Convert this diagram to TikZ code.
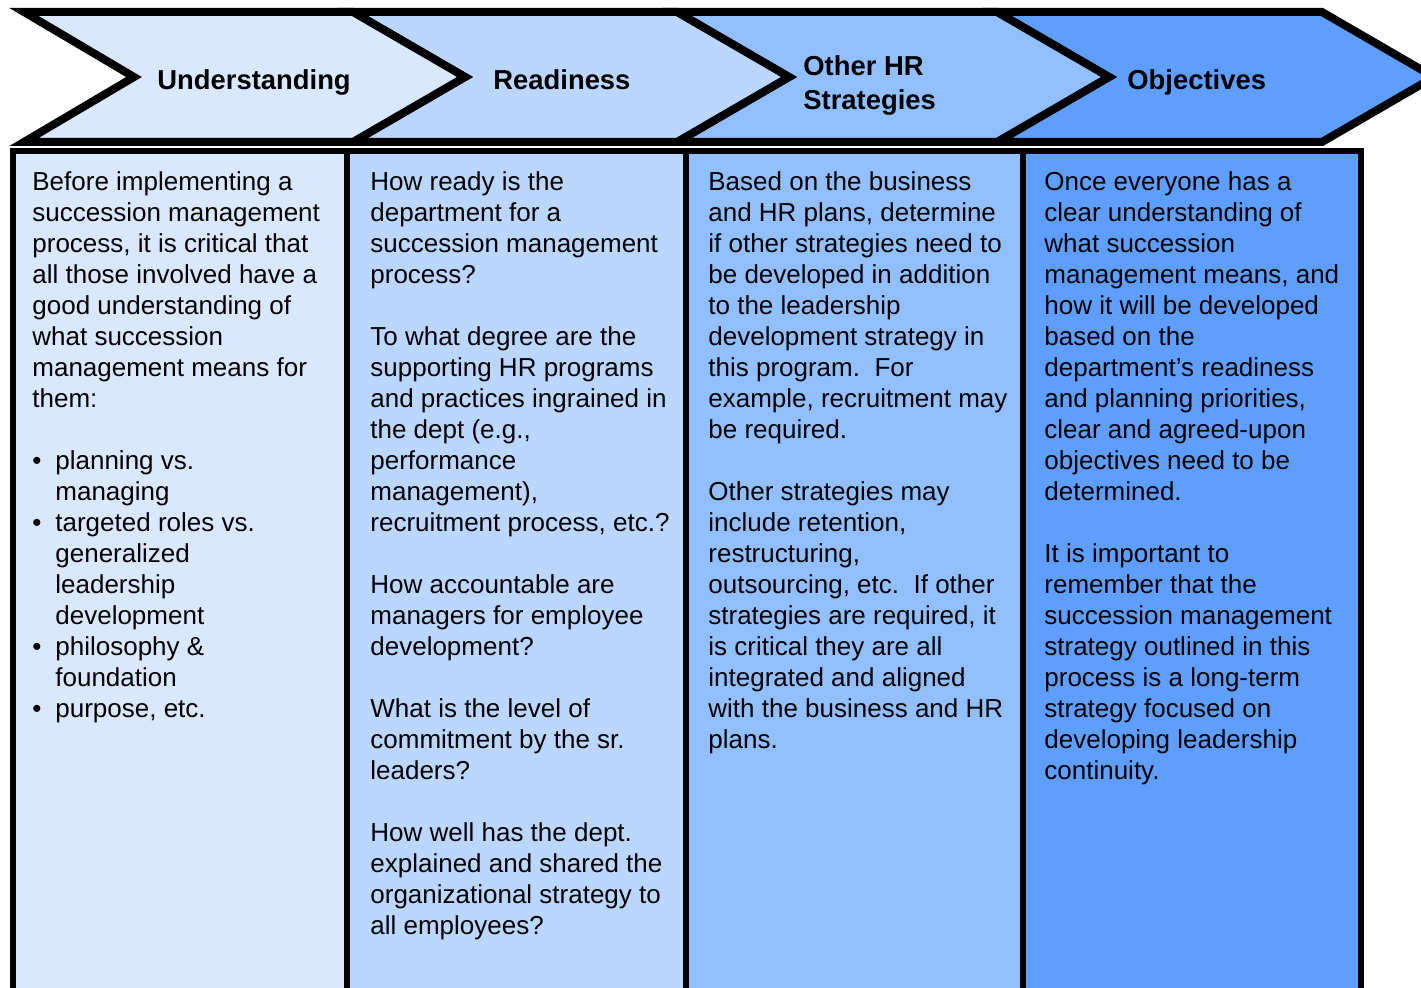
\documentclass[tikz,border=0pt]{standalone}
\usepackage{fontspec}
\setmainfont{Liberation Sans}
\usetikzlibrary{positioning}

\definecolor{stageA}{RGB}{217,232,255}
\definecolor{stageB}{RGB}{187,214,255}
\definecolor{stageC}{RGB}{146,191,255}
\definecolor{stageD}{RGB}{94,158,255}

\newcommand{\bitem}{\makebox[11.5pt][l]{\textbullet}}
\newcommand{\bcont}{\hspace*{11.5pt}}

\tikzset{
  chev/.style={draw=black, line width=4pt, line join=miter},
  colbox/.style={draw=black, line width=3pt},
  head/.style={font=\fontsize{13.7}{17}\selectfont\bfseries, inner sep=0pt, align=left},
  body/.style={font=\fontsize{13}{15.5}\selectfont, inner sep=0pt, align=left, anchor=north west},
}

\begin{document}
\begin{tikzpicture}[x=0.5pt,y=-0.5pt]
        \useasboundingbox (0,0) rectangle (1421,988);

        % columns
        \draw[colbox, fill=stageA] (13,151) rectangle (347,1010);
        \draw[colbox, fill=stageB] (347,151) rectangle (686,1010);
        \draw[colbox, fill=stageC] (686,151) rectangle (1023,1010);
        \draw[colbox, fill=stageD] (1023,151) rectangle (1361,1010);

        % chevrons
        \draw[chev, fill=stageD] (997,12) -- (1322,12) -- (1434,77) -- (1322,142) -- (997,142) -- (1109,77) -- cycle;
        \draw[chev, fill=stageC] (677,12) -- (997,12) -- (1109,77) -- (997,142) -- (677,142) -- (789,77) -- cycle;
        \draw[chev, fill=stageB] (353,12) -- (677,12) -- (789,77) -- (677,142) -- (353,142) -- (465,77) -- cycle;
        \draw[chev, fill=stageA] (24,12) -- (353,12) -- (465,77) -- (353,142) -- (24,142) -- (134,77) -- cycle;

        \node[head, anchor=base west] (hUnd) at (157,90) {Understanding};
        \node[head, anchor=base west] (hRead) at (493,90) {Readiness};
        \node[head, anchor=west] (hOther) at (803,85) {Other HR\\Strategies};
        \node[head, anchor=base west] (hObj) at (1127,90) {Objectives};

        \node[body] (tUnd) at (32,171) {Before implementing a\\
            succession management\\
            process, it is critical that\\
            all those involved have a\\
            good understanding of\\
            what succession\\
            management means for\\
            them:\\[15.5pt]
            \bitem planning vs.\\
            \bcont managing\\
            \bitem targeted roles vs.\\
            \bcont generalized\\
            \bcont leadership\\
            \bcont development\\
            \bitem philosophy \&\\
            \bcont foundation\\
            \bitem purpose, etc.};

        \node[body] (tRead) at (370,171) {How ready is the\\
            department for a\\
            succession management\\
            process?\\[15.5pt]
            To what degree are the\\
            supporting HR programs\\
            and practices ingrained in\\
            the dept (e.g.,\\
            performance\\
            management),\\
            recruitment process, etc.?\\[15.5pt]
            How accountable are\\
            managers for employee\\
            development?\\[15.5pt]
            What is the level of\\
            commitment by the sr.\\
            leaders?\\[15.5pt]
            How well has the dept.\\
            explained and shared the\\
            organizational strategy to\\
            all employees?};

        \node[body] (tOther) at (708,171) {Based on the business\\
            and HR plans, determine\\
            if other strategies need to\\
            be developed in addition\\
            to the leadership\\
            development strategy in\\
            this program.\ \ For\\
            example, recruitment may\\
            be required.\\[15.5pt]
            Other strategies may\\
            include retention,\\
            restructuring,\\
            outsourcing, etc.\ \ If other\\
            strategies are required, it\\
            is critical they are all\\
            integrated and aligned\\
            with the business and HR\\
            plans.};

        \node[body] (tObj) at (1044,171) {Once everyone has a\\
            clear understanding of\\
            what succession\\
            management means, and\\
            how it will be developed\\
            based on the\\
            department’s readiness\\
            and planning priorities,\\
            clear and agreed-upon\\
            objectives need to be\\
            determined.\\[15.5pt]
            It is important to\\
            remember that the\\
            succession management\\
            strategy outlined in this\\
            process is a long-term\\
            strategy focused on\\
            developing leadership\\
            continuity.};

\end{tikzpicture}
\end{document}
